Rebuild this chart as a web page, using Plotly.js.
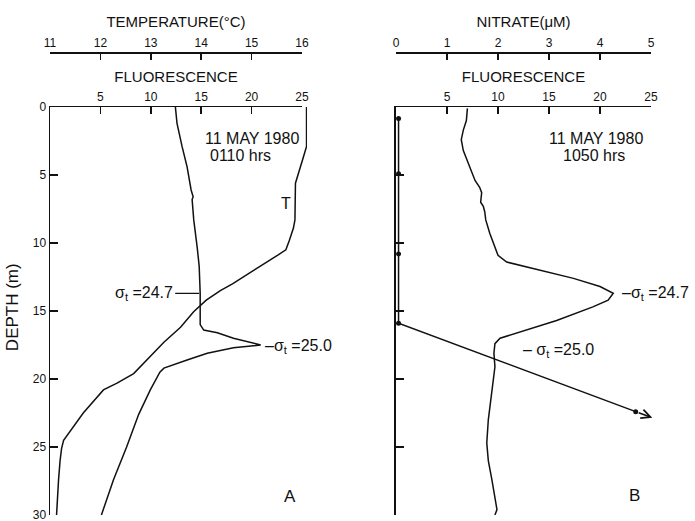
<!DOCTYPE html>
<html>
<head>
<meta charset="utf-8">
<script src="https://cdn.plot.ly/plotly-3.0.1.min.js"></script>
<style>html,body{margin:0;padding:0;background:#fff;}#chart{width:695px;height:521px;}</style>
</head>
<body>
<div id="chart"></div>
<script>
// Panel A (11 May 1980, 0110 hrs)
var depthTempA = [0, 2.9, 3.9, 4.3, 5.1, 5.6, 8.3, 8.9, 9.8, 10.5, 10.9, 11.7, 13.0, 13.5, 14.2, 15.05, 16.2, 17.3, 18.6, 19.6, 20.3, 20.8, 22.5, 24.5, 25.1, 26.0, 27.4, 29.8, 30];
var tempA      = [16.09, 16.09, 16.01, 15.98, 15.91, 15.87, 15.86, 15.83, 15.75, 15.68, 15.52, 15.18, 14.62, 14.38, 14.1, 13.85, 13.59, 13.26, 12.93, 12.66, 12.33, 12.06, 11.66, 11.27, 11.23, 11.2, 11.17, 11.13, 11.13];

var depthFluorA = [0, 1.2, 2.9, 4.4, 6.1, 6.6, 6.8, 8.3, 10.3, 11.7, 13.7, 15.2, 16.0, 16.4, 16.6, 17.0, 17.5, 17.7, 18.1, 18.6, 19.2, 19.5, 20.8, 22.6, 25.0, 27.4, 29.6, 30];
var fluorA      = [12.44, 12.6, 13.1, 13.6, 14.0, 14.2, 14.1, 14.26, 14.6, 14.8, 14.9, 14.9, 14.9, 15.25, 16.6, 18.2, 20.9, 18.2, 15.6, 13.6, 11.3, 10.9, 9.95, 8.8, 7.6, 6.3, 5.3, 5.1];

// Panel B (11 May 1980, 1050 hrs)
var depthFluorB = [0.1, 1.0, 1.7, 2.4, 3.2, 4.4, 5.4, 5.9, 6.3, 7.0, 7.3, 7.7, 8.3, 9.3, 10.3, 10.9, 11.4, 12.0, 12.6, 13.2, 13.6, 13.7, 14.2, 14.7, 15.7, 16.4, 17.0, 17.4, 18.1, 19.1, 21.1, 23.0, 24.7, 26.0, 27.4, 28.9, 29.6, 30];
var fluorB      = [7.0, 6.9, 6.6, 6.4, 6.6, 7.25, 7.75, 8.2, 8.4, 8.3, 8.56, 8.7, 8.8, 9.2, 9.7, 10.0, 10.85, 14.1, 17.4, 20.0, 21.0, 21.3, 20.8, 19.3, 15.75, 12.8, 10.2, 9.7, 9.6, 9.7, 9.4, 9.05, 8.9, 9.05, 9.4, 9.7, 9.9, 9.7];

var depthNitrateB = [0.85, 4.9, 10.8, 15.9, 22.4];
var nitrateB      = [0.05, 0.05, 0.05, 0.05, 4.7];

var depthTicks = [0, 5, 10, 15, 20, 25, 30];
var depthTickLabels = ['0', '5', '10', '15', '20', '25', '30'];
var fluorTicks = [5, 10, 15, 20, 25];
var tempTicks = [11, 12, 13, 14, 15, 16];
var nitrateTicks = [0, 1, 2, 3, 4, 5];

var FONT = 'Liberation Sans, Arial, sans-serif';
var INK = '#111';
var lineStyle = {color: INK, width: 1.5};

// geometry of panel A: visible axes span [0, dA]; the temperature trace
// lives on a hidden twin axis a few pixels wider so the 16.09 °C surface values are not clipped
var dA = 0.4193, dAwide = 0.4276;
var tempRange = [11, 16];
var tempRangeWide = [11, 11 + (tempRange[1] - tempRange[0]) * dAwide / dA];

var traces = [
  {x: tempA, y: depthTempA, xaxis: 'x5', yaxis: 'y', mode: 'lines', line: lineStyle, name: 'Temperature', showlegend: false},
  {x: [], y: [], xaxis: 'x2', yaxis: 'y', mode: 'lines', line: lineStyle, name: 'temperature scale', showlegend: false, hoverinfo: 'skip'},
  {x: fluorA, y: depthFluorA, xaxis: 'x', yaxis: 'y', mode: 'lines', line: lineStyle, name: 'Fluorescence A', showlegend: false},
  {x: fluorB, y: depthFluorB, xaxis: 'x3', yaxis: 'y2', mode: 'lines', line: lineStyle, name: 'Fluorescence B', showlegend: false},
  {x: nitrateB, y: depthNitrateB, xaxis: 'x4', yaxis: 'y2', mode: 'lines+markers', line: lineStyle, marker: {color: INK, size: 5}, name: 'Nitrate', showlegend: false, cliponaxis: false}
];

// arrow continuing the last nitrate segment (off-scale value)
var n = nitrateB.length;
var ext = 0.07;
var tipX = nitrateB[n-1] + (nitrateB[n-1] - nitrateB[n-2]) * ext;
var tipY = depthNitrateB[n-1] + (depthNitrateB[n-1] - depthNitrateB[n-2]) * ext;

var yTop = 0.8812;
function axisBase(extra) {
  var a = {
    showgrid: false, zeroline: false, showline: true, linecolor: INK, linewidth: 1.5,
    ticks: 'inside', tickcolor: INK, tickwidth: 1.5, ticklabeloverflow: 'allow',
    tickfont: {family: FONT, size: 12, color: INK}
  };
  for (var k in extra) a[k] = extra[k];
  return a;
}
var titleFont = {family: FONT, size: 15, color: INK};
var annFont = {family: FONT, size: 16, color: INK};

var layout = {
  width: 695, height: 521,
  margin: {l: 50, r: 44, t: 52, b: 6},
  paper_bgcolor: '#fff', plot_bgcolor: 'rgba(0,0,0,0)',
  showlegend: false,
  xaxis: axisBase({domain: [0, dA], anchor: 'y', side: 'top', range: [0, 25], tickvals: fluorTicks, ticklen: 7,
    title: {text: 'FLUORESCENCE', font: titleFont, standoff: 3}}),
  xaxis2: axisBase({domain: [0, dA], overlaying: 'x', anchor: 'free', position: 1, side: 'top', range: tempRange, tickvals: tempTicks, ticklen: 6,
    title: {text: 'TEMPERATURE(°C)', font: titleFont, standoff: 3}}),
  xaxis5: {domain: [0, dAwide], anchor: 'y', range: tempRangeWide, visible: false, showgrid: false, zeroline: false},
  xaxis3: axisBase({domain: [0.5757, 1], anchor: 'y2', side: 'top', range: [0, 25], tickvals: fluorTicks, ticklen: 7,
    title: {text: 'FLUORESCENCE', font: titleFont, standoff: 3}}),
  xaxis4: axisBase({domain: [0.5757, 1], overlaying: 'x3', anchor: 'free', position: 1, side: 'top', range: [0, 5], tickvals: nitrateTicks, ticklen: 6,
    title: {text: 'NITRATE(μM)', font: titleFont, standoff: 3}}),
  yaxis: axisBase({domain: [0, yTop], anchor: 'x', range: [30, 0], tickvals: depthTicks, ticktext: depthTickLabels, ticklen: 8}),
  yaxis2: axisBase({domain: [0, yTop], anchor: 'x3', range: [30, 0], tickvals: depthTicks, ticklen: 8, showticklabels: false}),
  annotations: [
    {text: 'DEPTH (m)', xref: 'paper', yref: 'paper', x: -0.0632, y: 0.449, textangle: -90, showarrow: false, font: {family: FONT, size: 17, color: INK}, xanchor: 'center', yanchor: 'middle'},
    {text: '11 MAY 1980', xref: 'x', yref: 'y', x: 15.2, y: 2.3, xanchor: 'left', yanchor: 'middle', showarrow: false, font: annFont},
    {text: '0110 hrs', xref: 'x', yref: 'y', x: 15.7, y: 3.6, xanchor: 'left', yanchor: 'middle', showarrow: false, font: annFont},
    {text: 'T', xref: 'x', yref: 'y', x: 23.4, y: 7.06, xanchor: 'center', yanchor: 'middle', showarrow: false, font: annFont},
    {text: 'σ<sub>t</sub> =24.7', xref: 'x', yref: 'y', x: 14.8, y: 13.7, ax: -24, ay: 0, xanchor: 'right', yanchor: 'middle', showarrow: true, arrowhead: 0, arrowwidth: 1.2, arrowcolor: INK, standoff: 0, font: annFont},
    {text: '–σ<sub>t</sub> =25.0', xref: 'x', yref: 'y', x: 21.1, y: 17.6, xanchor: 'left', yanchor: 'middle', showarrow: false, font: annFont},
    {text: 'A', xref: 'x', yref: 'y', x: 23.8, y: 28.65, xanchor: 'center', yanchor: 'middle', showarrow: false, font: {family: FONT, size: 17, color: INK}},
    {text: '11 MAY 1980', xref: 'x3', yref: 'y2', x: 14.8, y: 2.3, xanchor: 'left', yanchor: 'middle', showarrow: false, font: annFont},
    {text: '1050 hrs', xref: 'x3', yref: 'y2', x: 16.2, y: 3.6, xanchor: 'left', yanchor: 'middle', showarrow: false, font: annFont},
    {text: '–σ<sub>t</sub> =24.7', xref: 'x3', yref: 'y2', x: 22.0, y: 13.7, xanchor: 'left', yanchor: 'middle', showarrow: false, font: annFont},
    {text: '– σ<sub>t</sub> =25.0', xref: 'x3', yref: 'y2', x: 12.3, y: 17.9, xanchor: 'left', yanchor: 'middle', showarrow: false, font: annFont},
    {text: 'B', xref: 'x3', yref: 'y2', x: 23.4, y: 28.6, xanchor: 'center', yanchor: 'middle', showarrow: false, font: {family: FONT, size: 17, color: INK}},
    {text: ' ', xref: 'x4', yref: 'y2', axref: 'x4', ayref: 'y2', x: tipX, y: tipY, ax: nitrateB[n-1], ay: depthNitrateB[n-1], showarrow: true, arrowhead: 5, arrowsize: 1.2, arrowwidth: 1.5, arrowcolor: INK, standoff: 0}
  ]
};

Plotly.newPlot('chart', traces, layout, {staticPlot: true, displayModeBar: false});
</script>
</body>
</html>
